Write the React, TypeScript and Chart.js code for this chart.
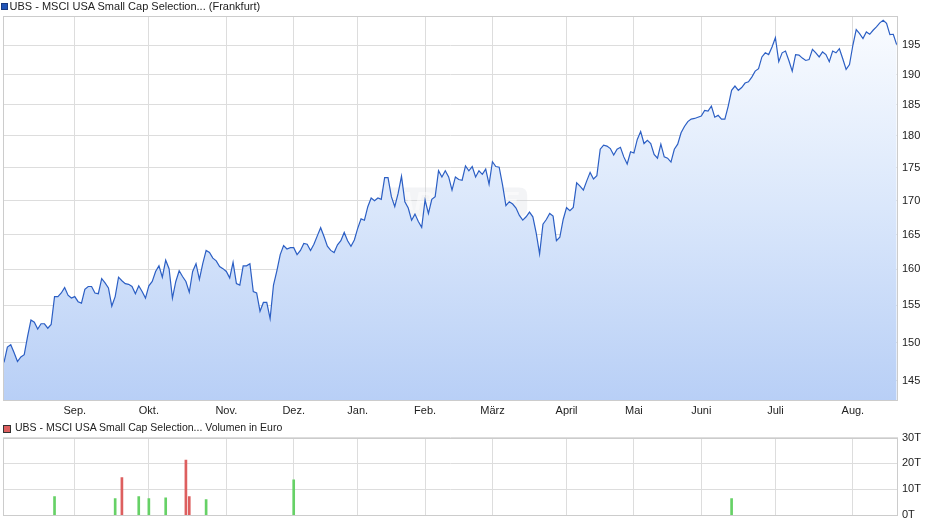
import React, { useEffect, useRef } from 'react';
import { Chart, registerables } from 'chart.js';

Chart.register(...registerables);

// ---- Data ----
const priceValues: number[] = [
  // Aug - Nov
  147.4, 149.4, 149.7, 148.65, 147.5, 148.1, 148.4, 150.8, 153.0, 152.7, 151.8, 152.5, 152.5, 151.9, 152.4,
  156.2, 156.2, 156.7, 157.45, 156.4, 156.0, 156.2, 155.5, 155.3, 157.2, 157.6, 157.6, 156.7, 156.6, 158.7,
  158.1, 157.4, 154.9, 156.2, 158.9, 158.4, 158.0, 157.9, 157.6, 156.6, 157.7, 156.9, 156.0, 157.7, 158.3,
  159.7, 160.5, 158.9, 161.3, 160.1, 156.0, 158.3, 159.8, 159.0, 158.3, 156.8, 159.7, 160.8, 158.6, 160.8,
  162.7, 162.4, 161.6, 161.2, 160.4, 160.1, 159.7, 158.8, 161.0, 158.0, 157.8, 160.5, 160.5, 160.8, 156.9,
  156.7, 154.2, 155.4, 155.4, 153.2, 157.8, 159.8,
  // Dez - März
  162.1, 163.4, 162.9, 163.1, 163.1, 162.1, 162.7, 163.7, 163.6, 162.7, 163.6, 164.8, 166.0, 164.7, 163.3,
  162.7, 162.4, 163.5, 164.1, 165.3, 164.1, 163.3, 164.2, 165.9, 167.3, 167.1, 169.1, 170.4, 170.0, 170.4,
  170.2, 173.5, 173.5, 170.6, 169.1, 171.1, 173.7, 169.85, 168.9, 167.1, 168.0, 166.9, 166.05, 170.1, 168.1,
  170.2, 170.6, 174.55, 173.6, 174.55, 173.6, 171.6, 173.6, 173.2, 173.1, 175.3, 174.55, 175.2, 173.6, 174.55,
  174.0, 174.8, 172.5, 175.95, 175.2, 175.1, 172.4, 169.25, 169.85, 169.5, 168.9, 167.8, 167.1, 167.6, 168.3,
  // März - Juni
  167.6, 165.2, 162.2, 166.5, 167.2, 168.1, 167.7, 164.1, 164.6, 167.2, 168.95, 168.5, 169.0, 172.7, 172.2,
  171.6, 173.0, 174.3, 173.3, 173.8, 177.9, 178.55, 178.4, 178.0, 177.0, 177.9, 178.2, 176.7, 175.6, 177.5,
  177.3, 179.45, 180.7, 178.8, 179.3, 178.8, 177.1, 176.5, 178.7, 176.7, 176.5, 175.9, 177.9, 178.7, 180.5,
  181.5, 182.3, 182.7, 182.8, 183.0,
  // Juni - Aug
  183.2, 184.1, 184.0, 184.8, 183.0, 183.3, 182.7, 182.7, 184.8, 187.4, 188.1, 187.4, 187.85, 188.6, 188.8,
  189.6, 190.6, 191.0, 193.0, 193.7, 193.4, 194.7, 196.3, 192.2, 193.7, 194.0, 192.4, 190.6, 193.4, 193.3,
  192.8, 192.4, 192.55, 194.3, 193.7, 193.0, 193.85, 193.4, 192.2, 194.0, 193.7, 194.4, 192.7, 190.9, 191.7,
  195.0, 197.7, 197.0, 196.15, 197.3, 196.9, 197.6, 198.2, 198.9, 199.35, 198.8, 196.85, 196.9, 195.1,
];

const monthLabels: string[] = ['Sep.', 'Okt.', 'Nov.', 'Dez.', 'Jan.', 'Feb.', 'März', 'April', 'Mai', 'Juni', 'Juli', 'Aug.'];
const monthIndex: number[] = [21, 43, 66, 86, 105, 125, 145, 167, 187, 207, 229, 252];
const priceTicks: number[] = [145, 150, 155, 160, 165, 170, 175, 180, 185, 190, 195];

const volumeIndex: number[] = [15, 33, 35, 40, 43, 48, 54, 55, 60, 86, 216];
const volumeValues: number[] = [7.2, 6.5, 14.6, 7.2, 6.5, 6.8, 21.3, 7.2, 6.1, 13.7, 6.5]; // in T (thousand) Euro
const volumeUp: boolean[] = [true, true, false, true, true, true, false, false, true, true, true];
const volumeTicks: number[] = [0, 10, 20, 30];

const priceTitle = 'UBS - MSCI USA Small Cap Selection... (Frankfurt)';
const volumeTitle = 'UBS - MSCI USA Small Cap Selection... Volumen in Euro';

const FONT = "'Liberation Sans', Arial, Helvetica, sans-serif";
const GRID = '#dddddd';
const BORDER = '#cccccc';
const TEXT = '#222222';

const xMin = -0.3;
const xMax = priceValues.length - 1 + 0.4;

const borderPlugin = {
  id: 'plotBorder',
  afterDatasetsDraw(chart: any) {
    const { ctx, chartArea } = chart;
    ctx.save();
    ctx.strokeStyle = BORDER;
    ctx.lineWidth = 1;
    ctx.strokeRect(
      Math.round(chartArea.left) + 0.5,
      Math.round(chartArea.top) + 0.5,
      Math.round(chartArea.right - chartArea.left) - 1,
      Math.round(chartArea.bottom - chartArea.top) - 1
    );
    ctx.restore();
  },
};

const watermarkPlugin = {
  id: 'watermark',
  beforeDatasetsDraw(chart: any) {
    const { ctx, chartArea } = chart;
    const cx = chartArea.left + (chartArea.right - chartArea.left) * 0.503;
    const cy = 202;
    const w = 148;
    const h = 29;
    const x = cx - w / 2;
    const y = cy - h / 2;
    ctx.save();
    ctx.fillStyle = 'rgba(200, 205, 215, 0.22)';
    ctx.beginPath();
    const r = 8;
    ctx.moveTo(x + r, y);
    ctx.lineTo(x + w - r, y);
    ctx.quadraticCurveTo(x + w, y, x + w, y + r);
    ctx.lineTo(x + w, y + h - r);
    ctx.quadraticCurveTo(x + w, y + h, x + w - r, y + h);
    ctx.lineTo(x + r, y + h);
    ctx.quadraticCurveTo(x, y + h, x, y + h - r);
    ctx.lineTo(x, y + r);
    ctx.quadraticCurveTo(x, y, x + r, y);
    ctx.fill();
    ctx.font = `italic bold 26px ${FONT}`;
    ctx.fillStyle = 'rgba(255, 255, 255, 0.45)';
    ctx.textAlign = 'center';
    ctx.textBaseline = 'middle';
    ctx.fillText('ARIVA.DE', cx + 4, cy + 1);
    ctx.restore();
  },
};

function monthTicks(scale: any) {
  scale.ticks = monthIndex.map((v) => ({ value: v }));
}

export default function App() {
  const priceRef = useRef<HTMLCanvasElement | null>(null);
  const volRef = useRef<HTMLCanvasElement | null>(null);

  useEffect(() => {
    Chart.defaults.font.family = FONT;
    Chart.defaults.font.size = 11;
    Chart.defaults.color = TEXT;

    const priceData = priceValues.map((v, i) => ({ x: i, y: v }));

    const priceChart = new Chart(priceRef.current as HTMLCanvasElement, {
      type: 'line',
      data: {
        datasets: [
          {
            data: priceData,
            borderColor: '#2c5fc4',
            borderWidth: 1.2,
            pointRadius: 0,
            tension: 0,
            fill: 'start',
            backgroundColor: (c: any) => {
              const area = c.chart.chartArea;
              if (!area) return 'rgba(190,210,245,0.6)';
              const g = c.chart.ctx.createLinearGradient(0, area.top, 0, area.bottom);
              g.addColorStop(0, '#fafcff');
              g.addColorStop(0.5, '#dae7fb');
              g.addColorStop(1, '#b8cff6');
              return g;
            },
          },
        ],
      },
      options: {
        animation: false,
        responsive: false,
        maintainAspectRatio: false,
        layout: { padding: { top: 16, left: 3, right: 0, bottom: 0 } },
        plugins: { legend: { display: false }, tooltip: { enabled: false } },
        scales: {
          x: {
            type: 'linear',
            min: xMin,
            max: xMax,
            afterBuildTicks: monthTicks,
            afterFit: (s: any) => {
              s.height = 19;
            },
            grid: { color: GRID, drawTicks: false, lineWidth: 1 },
            border: { display: false },
            ticks: {
              autoSkip: false,
              maxRotation: 0,
              padding: 3,
              color: TEXT,
              callback: (v: any) => {
                const k = monthIndex.indexOf(Number(v));
                return k >= 0 ? monthLabels[k] : '';
              },
            },
          },
          y: {
            type: 'logarithmic',
            position: 'right',
            min: 142.45,
            max: 200.1,
            afterBuildTicks: (s: any) => {
              s.ticks = priceTicks.map((v) => ({ value: v }));
            },
            afterFit: (s: any) => {
              s.width = 42;
            },
            grid: { color: GRID, drawTicks: false, lineWidth: 1 },
            border: { display: false },
            ticks: {
              padding: 4,
              color: TEXT,
              callback: (v: any) => String(v),
            },
          },
        },
      },
      plugins: [watermarkPlugin, borderPlugin],
    } as any);

    const volData = volumeIndex.map((x, i) => ({ x, y: volumeValues[i] }));
    const volChart = new Chart(volRef.current as HTMLCanvasElement, {
      type: 'bar',
      data: {
        datasets: [
          {
            data: volData,
            backgroundColor: volumeUp.map((u) => (u ? '#66d166' : '#dd5f5f')),
            barThickness: 2,
            borderWidth: 0,
          },
        ],
      },
      options: {
        animation: false,
        responsive: false,
        maintainAspectRatio: false,
        layout: { padding: { top: 17.5, left: 3, right: 0, bottom: 0 } },
        plugins: { legend: { display: false }, tooltip: { enabled: false } },
        scales: {
          x: {
            type: 'linear',
            min: xMin,
            max: xMax,
            offset: false,
            afterBuildTicks: monthTicks,
            afterFit: (s: any) => {
              s.height = 10;
            },
            grid: { color: GRID, drawTicks: false, offset: false },
            border: { display: false },
            ticks: { display: false },
          },
          y: {
            type: 'linear',
            position: 'right',
            min: 0,
            max: 30,
            afterBuildTicks: (s: any) => {
              s.ticks = volumeTicks.map((v) => ({ value: v }));
            },
            afterFit: (s: any) => {
              s.width = 42;
            },
            grid: { color: GRID, drawTicks: false },
            border: { display: false },
            ticks: {
              padding: 4,
              color: TEXT,
              callback: (v: any) => `${v}T`,
            },
          },
        },
      },
      plugins: [borderPlugin],
    } as any);

    return () => {
      priceChart.destroy();
      volChart.destroy();
    };
  }, []);

  const legendText: React.CSSProperties = {
    position: 'absolute',
    color: TEXT,
    lineHeight: '14px',
    whiteSpace: 'nowrap',
  };

  return (
    <div style={{ position: 'absolute', left: 0, top: 0, width: 940, height: 526, background: '#ffffff', overflow: 'hidden' }}>
      <canvas ref={priceRef} width={940} height={420} style={{ position: 'absolute', left: 0, top: 0, width: 940, height: 420 }} />
      <canvas ref={volRef} width={940} height={106} style={{ position: 'absolute', left: 0, top: 420, width: 940, height: 106 }} />
      <div style={{ position: 'absolute', left: 1, top: 3, width: 5, height: 5, background: '#2155b8', border: '1px solid #1a3a80' }} />
      <div style={{ ...legendText, left: 9.5, top: 0, font: `11px ${FONT}` }}>{priceTitle}</div>
      <div style={{ position: 'absolute', left: 3, top: 425, width: 6, height: 6, background: '#dd5f5f', border: '1px solid #333333' }} />
      <div style={{ ...legendText, left: 15, top: 421, font: `10.5px ${FONT}` }}>{volumeTitle}</div>
    </div>
  );
}
